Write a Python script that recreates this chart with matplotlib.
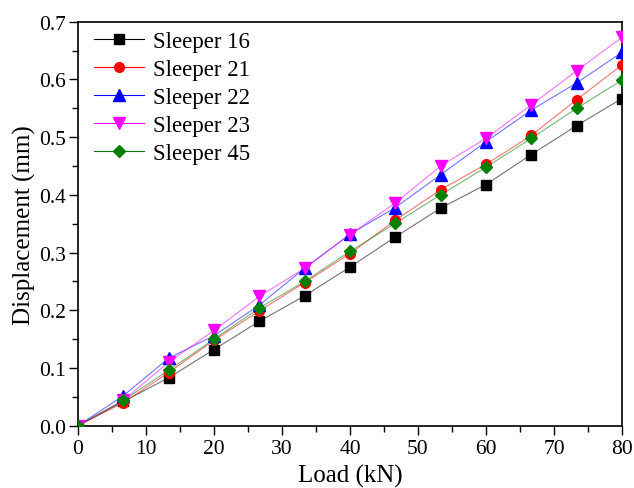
import numpy as np
import matplotlib.pyplot as plt
from matplotlib.ticker import MultipleLocator

plt.rcParams['font.family'] = ['Liberation Serif', 'DejaVu Serif']

# 하중 (kN)
load = [0, 6.67, 13.33, 20, 26.67, 33.33, 40, 46.67, 53.33, 60, 66.67, 73.33, 80]

# 변위 (mm)
s16 = [0, 0.042, 0.083, 0.132, 0.181, 0.225, 0.275, 0.327, 0.377, 0.418, 0.470, 0.520, 0.567]
s21 = [0, 0.040, 0.092, 0.148, 0.199, 0.248, 0.298, 0.356, 0.409, 0.453, 0.503, 0.565, 0.625]
s22 = [0, 0.052, 0.117, 0.156, 0.209, 0.273, 0.332, 0.378, 0.435, 0.492, 0.547, 0.594, 0.647]
s23 = [0, 0.044, 0.110, 0.165, 0.224, 0.273, 0.331, 0.386, 0.450, 0.498, 0.556, 0.615, 0.673]
s45 = [0, 0.044, 0.096, 0.150, 0.204, 0.250, 0.302, 0.351, 0.400, 0.448, 0.498, 0.550, 0.599]

labels = ["Sleeper 16", "Sleeper 21", "Sleeper 22", "Sleeper 23", "Sleeper 45"]
series = [s16, s21, s22, s23, s45]
colors = ["black", "red", "blue", "magenta", "green"]
markers = ["s", "o", "^", "v", "D"]
sizes = [6.5, 7, 8, 8, 6.5]

fig = plt.figure(figsize=(6.34, 4.89), dpi=100)
ax = fig.add_axes([0.123, 0.1274, 0.858, 0.826])

for y, c, m, ms, lab in zip(series, colors, markers, sizes, labels):
    ax.plot(load, y, color=c, lw=0.8, alpha=0.55, zorder=2)
    ax.plot(load, y, ls='none', marker=m, ms=ms, color=c, mec=c, zorder=3)
    # 범례용 더미
    ax.plot([], [], color=c, lw=0.8, marker=m, ms=ms, mfc=c, mec=c, label=lab)

ax.set_xlim(0, 80)
ax.set_ylim(0, 0.7)
ax.xaxis.set_major_locator(MultipleLocator(10))
ax.xaxis.set_minor_locator(MultipleLocator(5))
ax.yaxis.set_major_locator(MultipleLocator(0.1))
ax.yaxis.set_minor_locator(MultipleLocator(0.05))
ax.yaxis.set_major_formatter(plt.FormatStrFormatter('%.1f'))
ax.tick_params(which='both', direction='out', top=False, right=False, labelsize=15.5)
ax.tick_params(axis='x', pad=3)
ax.tick_params(axis='y', pad=2)
ax.tick_params(which='major', length=6.5, width=1)
ax.tick_params(which='minor', length=4, width=1)
for sp in ax.spines.values():
    sp.set_linewidth(1.2)

ax.set_xlabel("Load (kN)", fontsize=18, labelpad=4)
ax.set_ylabel("Displacement (mm)", fontsize=18, labelpad=2)

ax.legend(loc='upper left', frameon=False, fontsize=16.5, handlelength=2.2,
          labelspacing=0.3, borderaxespad=0.2, borderpad=0.2, handletextpad=0.4,
          bbox_to_anchor=(0.012, 1.0))

fig.savefig("out.png", dpi=100)
